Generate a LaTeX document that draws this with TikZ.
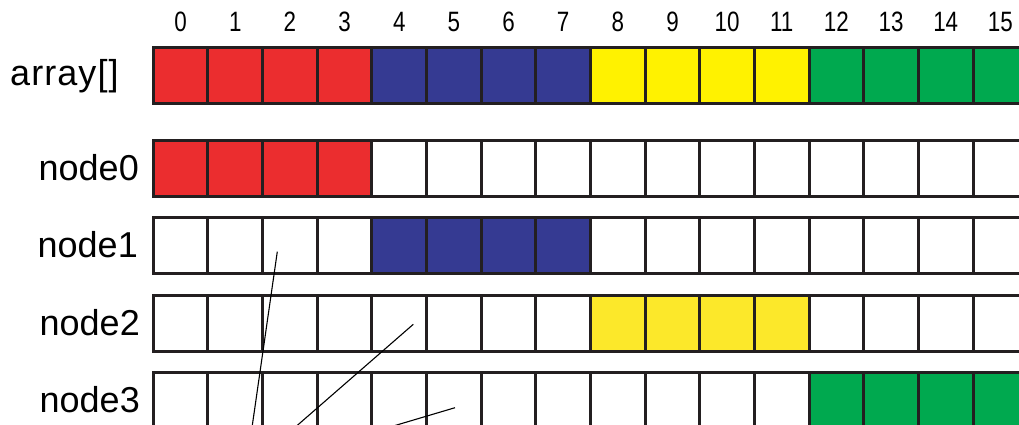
\documentclass[tikz,border=0pt]{standalone}
\usepackage{fontspec}
\setmainfont{Liberation Sans}
\newfontfamily\numfont[FakeStretch=0.8]{Liberation Sans}
\newfontfamily\arrfont[LetterSpace=3]{Liberation Sans}
\definecolor{cred}{RGB}{235,45,47}
\definecolor{cblue}{RGB}{53,58,146}
\definecolor{cyellow}{RGB}{255,242,0}
\definecolor{cyellowb}{RGB}{252,232,42}
\definecolor{cgreen}{RGB}{0,169,79}
\definecolor{cborder}{RGB}{35,31,32}
\tikzset{
  cell/.style={draw=cborder, line width=3pt, rectangle, inner sep=0pt, outer sep=0pt,
    minimum width=54.65pt, minimum height=56pt, anchor=north west},
  rowlabel/.style={font=\fontsize{36}{40}\selectfont, inner sep=0pt},
  collabel/.style={font=\numfont\fontsize{28}{30}\selectfont, inner sep=0pt},
  thinline/.style={draw=black, line width=1.1pt}
}
\begin{document}
\begin{tikzpicture}[x=1pt,y=-1pt]
\useasboundingbox (0,0) rectangle (1019,425);
\clip (0,0) rectangle (1019,425);
% column labels
\foreach \i in {0,...,15}{
  \node[collabel] (c\i) at ({153.3+54.65*(\i+0.5)},22) {\i};
}
% array row
\foreach \i in {0,...,15}{
  \pgfmathtruncatemacro{\g}{int(\i/4)}
  \ifcase\g \def\col{cred}\or \def\col{cblue}\or \def\col{cyellow}\or \def\col{cgreen}\fi
  \node[cell, fill=\col] (a\i) at ({153.3+54.65*\i},48) {};
}
% node rows
\foreach \r/\y/\fc in {0/140/cred,1/217/cblue,2/295/cyellowb,3/372/cgreen}{
  \foreach \i in {0,...,15}{
    \pgfmathtruncatemacro{\g}{int(\i/4)}
    \ifnum\g=\r
      \node[cell, fill=\fc] (n\r-\i) at ({153.3+54.65*\i},\y) {};
    \else
      \node[cell, fill=white] (n\r-\i) at ({153.3+54.65*\i},\y) {};
    \fi
  }
}
% row labels
\node[rowlabel, font=\arrfont\fontsize{36}{40}\selectfont, anchor=west] (la) at (10,76) {array[]};
\node[rowlabel, anchor=east] (l0) at (139,168) {node0};
\node[rowlabel, anchor=east] (l1) at (138,245) {node1};
\node[rowlabel, anchor=east] (l2) at (140,323) {node2};
\node[rowlabel, anchor=east] (l3) at (140,400) {node3};
% thin lines
\coordinate (p1a) at (277.3,251.7);
\coordinate (p1b) at (250.2,440);
\coordinate (p2a) at (413.3,324.3);
\coordinate (p2b) at (280.5,440);
\coordinate (p3a) at (455,407.7);
\coordinate (p3b) at (346.2,440);
\draw[thinline] (p1a) -- (p1b);
\draw[thinline] (p2a) -- (p2b);
\draw[thinline] (p3a) -- (p3b);
\end{tikzpicture}
\end{document}
